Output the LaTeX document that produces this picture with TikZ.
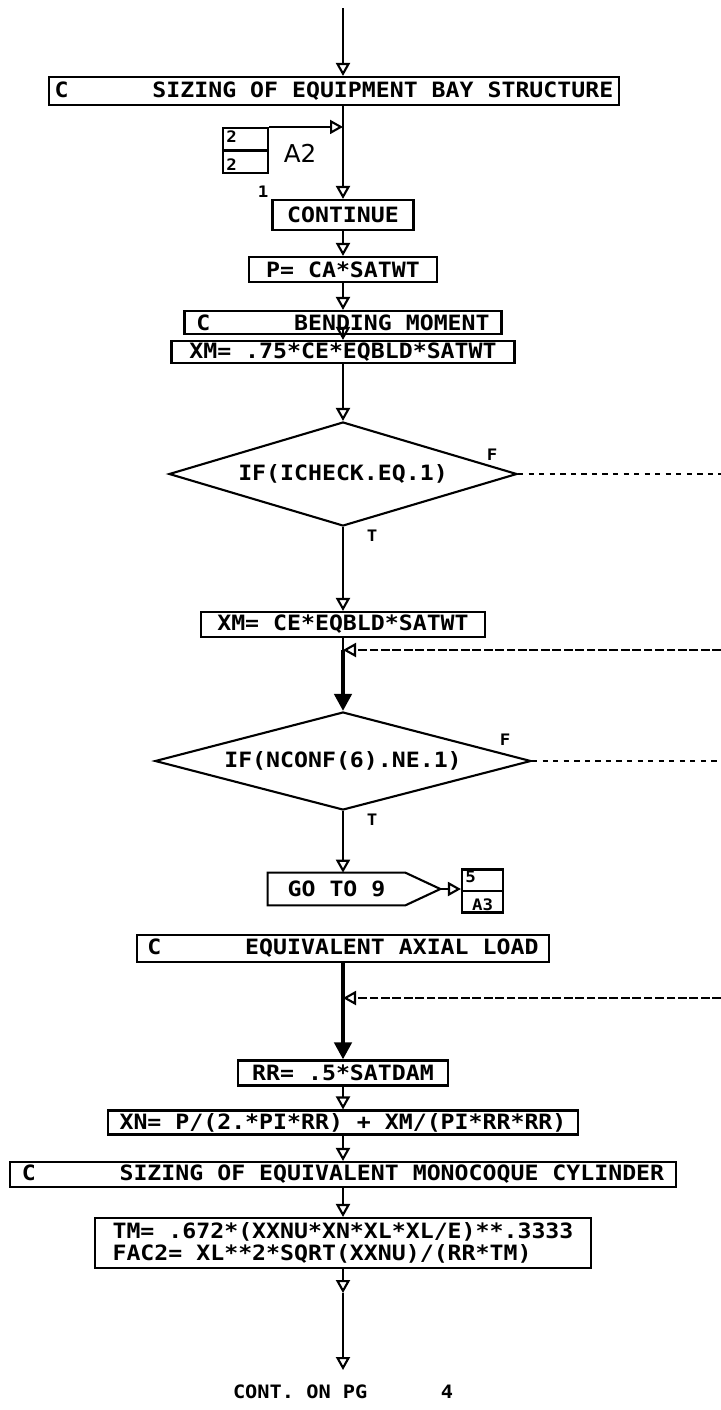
\documentclass[tikz,border=0pt]{standalone}
\usepackage{fontspec}
\usetikzlibrary{arrows.meta,shapes.geometric}
\newfontfamily\plotfont[FakeStretch=1.1]{DejaVu Sans Mono Bold}
\newfontfamily\labelfont{DejaVu Sans}

\begin{document}
\begin{tikzpicture}[
    x=0.2mm,y=-0.2mm,
    every node/.style={font=\plotfont\fontsize{12}{14}\selectfont,inner sep=0pt},
    box/.style={draw,line width=1.2pt,minimum height=5mm},
    dec/.style={draw,shape=diamond,shape aspect=4,line width=1.2pt,inner sep=0pt},
    conn/.style={draw,line width=1.2pt},
    tag/.style={font=\plotfont\fontsize{9}{10}\selectfont},
    arr/.style={line width=1.2pt,-{Triangle[open,length=2.6mm,width=2.8mm]}},
    fat/.style={line width=2.4pt,-{Triangle[length=3.4mm,width=3.4mm]}},
    back/.style={line width=0.6pt,dash pattern=on 5pt off 1.5pt,
                 -{Triangle[open,length=2.6mm,width=2.8mm,line width=1.2pt]}},
    exit/.style={line width=0.6pt,dash pattern=on 3pt off 3pt}
]
\useasboundingbox (0,0) rectangle (721,1410);
\coordinate (top) at (343,8);
\coordinate (edge) at (721,0);

% statements down the main line
\node[box,minimum width=114mm,minimum height=5.6mm] (b1) at (334,91) {C~~~~~~SIZING OF EQUIPMENT BAY STRUCTURE};
\node[conn,minimum width=9mm,minimum height=9mm] (a2) at (245.5,150.5) {};
\node[font=\labelfont\fontsize{14}{16}\selectfont] (a2lbl) at (300,153) {A2};
\node[tag] (one) at (263,192) {1};
\node[box,minimum width=28.2mm,minimum height=6mm] (cont) at (343,215) {CONTINUE};
\node[box,minimum width=37.6mm] (p) at (343,269.5) {P= CA*SATWT};
\node[box,minimum width=63.4mm,minimum height=4.6mm] (bend) at (343,322.5) {C~~~~~~BENDING MOMENT};
\node[box,minimum width=68.6mm,minimum height=4.4mm] (xm1) at (343,352) {XM= .75*CE*EQBLD*SATWT};
\node[dec,minimum width=69.6mm,minimum height=20.8mm] (d1) at (343,474) {IF(ICHECK.EQ.1)};
\node[box,minimum width=56.8mm] (xm2) at (343,624.5) {XM= CE*EQBLD*SATWT};
\node[dec,minimum width=75.2mm,minimum height=19.6mm] (d2) at (343,761) {IF(NCONF(6).NE.1)};
\node[minimum width=27.4mm,minimum height=6.4mm] (goto) at (336.5,889) {GO TO 9};
\node[conn,minimum width=8.2mm,minimum height=8.6mm] (c5) at (482.5,891) {};
\node[box,minimum width=82.4mm,minimum height=5.4mm] (equiv) at (343,948.5) {C~~~~~~EQUIVALENT AXIAL LOAD};
\node[box,minimum width=42mm] (rr) at (343,1073) {RR= .5*SATDAM};
\node[box,minimum width=94mm,minimum height=4.8mm] (xn) at (343,1122.5) {XN= P/(2.*PI*RR) + XM/(PI*RR*RR)};
\node[box,minimum width=133.2mm] (sz2) at (343,1174.5) {C~~~~~~SIZING OF EQUIVALENT MONOCOQUE CYLINDER};
\node[box,minimum width=99.2mm,minimum height=10mm,align=left,
      font=\plotfont\fontsize{12}{12.3}\selectfont] (tm) at (343,1243)
      {TM= .672*(XXNU*XN*XL*XL/E)**.3333\\FAC2= XL**2*SQRT(XXNU)/(RR*TM)};
\node[font=\plotfont\fontsize{10.5}{12}\selectfont] (pg) at (343,1392) {CONT.~ON~PG~~~~~~4};

% connector boxes
\draw[line width=1.2pt] (a2.west) -- (a2.east);
\node[tag,anchor=north west] (a2up) at ([shift={(0.8mm,-0.6mm)}]a2.north west) {2};
\node[tag,anchor=south west] (a2dn) at ([shift={(0.8mm,0.6mm)}]a2.south west) {2};
\draw[line width=1.2pt] (c5.west) -- (c5.east);
\node[tag,anchor=north west] (c5up) at ([shift={(0.8mm,-0.5mm)}]c5.north west) {5};
\node[tag,anchor=south] (c5dn) at ([yshift=0.5mm]c5.south) {A3};
\draw[line width=1.2pt] (goto.north west) -- (goto.north east) -- ([xshift=7mm]goto.east)
    coordinate (gotopt) -- (goto.south east) -- (goto.south west) -- cycle;

% T / F labels
\node[tag] (f1) at (492,455) {F};
\node[tag] (t1) at (372,536) {T};
\node[tag] (f2) at (505,740) {F};
\node[tag] (t2) at (372,820) {T};

% flow
\draw[arr] (top) -- (top |- b1.north);
\draw[arr] (top |- b1.south) -- (cont.north);
\draw[arr] (a2.north east) -- (a2.north east -| cont.north);
\draw[arr] (cont) -- (p);
\draw[arr] (p) -- (bend);
\draw[arr] (bend) -- (xm1);
\draw[arr] (xm1) -- (d1);
\draw[arr] (d1) -- (xm2);
\coordinate (m1) at (343,650);
\draw[line width=1.2pt] (xm2) -- (m1);
\draw[fat] (m1) -- (d2);
\draw[back] (m1 -| edge) -- (m1);
\draw[exit] (d1.east) -- (d1.east -| edge);
\draw[exit] (d2.east) -- (d2.east -| edge);
\draw[arr] (d2.south) -- (d2.south |- goto.north);
\draw[arr] (gotopt) -- (gotopt -| c5.west);
\coordinate (m2) at (343,998);
\draw[line width=2.4pt] (equiv) -- (m2);
\draw[fat] (m2) -- (rr);
\draw[back] (m2 -| edge) -- (m2);
\draw[arr] (rr) -- (xn);
\draw[arr] (xn) -- (sz2);
\draw[arr] (sz2) -- (tm);
\coordinate (mid) at (343,1293);
\coordinate (fin) at (343,1370);
\draw[arr] (tm) -- (mid);
\draw[arr] (mid) -- (fin);
\end{tikzpicture}
\end{document}
